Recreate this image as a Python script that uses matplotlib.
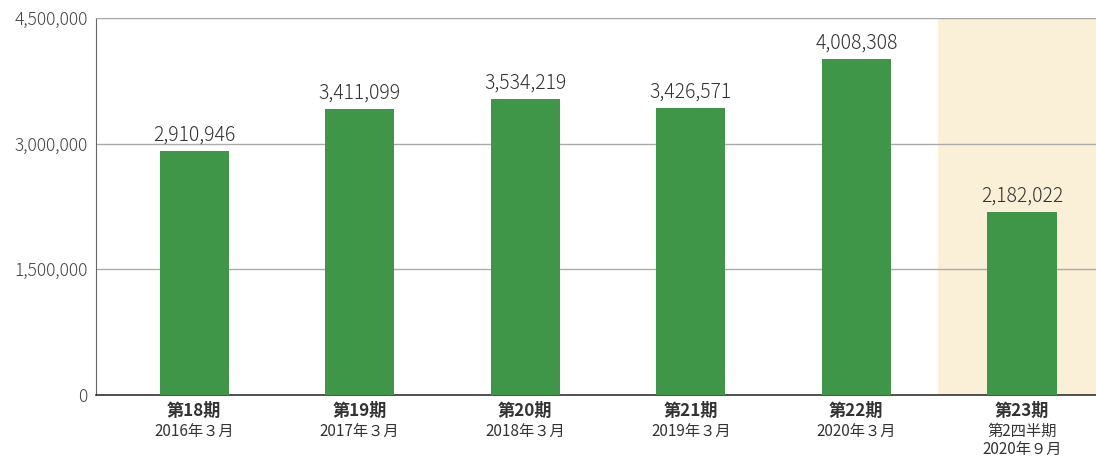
import matplotlib.pyplot as plt
import matplotlib.transforms as mtransforms

plt.rcParams['font.family'] = ['Noto Sans CJK JP', 'DejaVu Sans']

# data
periods = ['第18期', '第19期', '第20期', '第21期', '第22期', '第23期']
sub_labels = ['2016年３月', '2017年３月', '2018年３月', '2019年３月', '2020年３月', '第2四半期\n2020年９月']
values = [2910946, 3411099, 3534219, 3426571, 4008308, 2182022]
yticks = [0, 1500000, 3000000, 4500000]

green = '#3f9648'
text_col = '#333333'

fig = plt.figure(figsize=(10.96, 4.57), dpi=100)
ax = fig.add_axes([96 / 1096, 62 / 457, 1000 / 1096, 377 / 457])

x = list(range(len(values)))
ax.axvspan(4.49, 5.5, color='#faf0d7', zorder=0, lw=0)
ax.bar(x, values, width=0.417, color=green, zorder=3)

for xi, v in zip(x, values):
    ax.annotate(f'{v:,}', (xi, v), xytext=(0, 4), textcoords='offset points',
                ha='center', va='bottom', fontsize=14, fontweight='light', color=text_col)

ax.set_xlim(-0.592, 5.447)
ax.set_ylim(0, 4500000)
ax.set_yticks(yticks)
ax.set_yticklabels([f'{t:,}' for t in yticks], fontsize=12.5, fontweight='light', color='#444444')
ax.yaxis.grid(True, color='#aaaaaa', lw=1, zorder=1)
ax.tick_params(axis='y', length=0, pad=6)

ax.set_xticks(x)
ax.set_xticklabels(periods, fontsize=12.3, fontweight='bold', color=text_col)
ax.tick_params(axis='x', length=0, pad=5)

trans = mtransforms.blended_transform_factory(ax.transData, ax.transAxes)
for xi, s in zip(x, sub_labels):
    ax.text(xi, -0.074, s, transform=trans, ha='center', va='top',
            fontsize=11, color=text_col, linespacing=1.05)

ax.spines['right'].set_visible(False)
ax.spines['top'].set_color('#aaaaaa')
ax.spines['left'].set_color('#666666')
ax.spines['bottom'].set_color('#333333')
ax.spines['bottom'].set_linewidth(1.2)

fig.savefig('out.png', dpi=100)
